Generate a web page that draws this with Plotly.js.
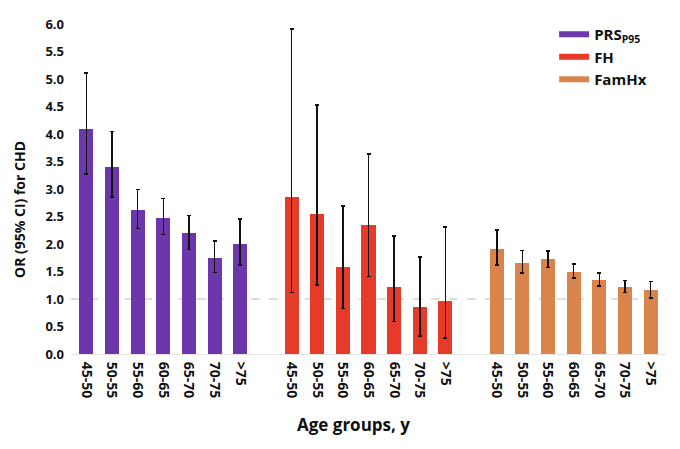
<!DOCTYPE html>
<html>
<head>
<meta charset="utf-8">
<script src="https://cdn.plot.ly/plotly-3.0.1.min.js"></script>
<style>
  html, body { margin: 0; padding: 0; background: #fff; }
  #chart { width: 680px; height: 449px; }
</style>
</head>
<body>
<div id="chart"></div>
<script>
// age groups, same for each risk factor
const ageGroups = ["45-50", "50-55", "55-60", "60-65", "65-70", "70-75", ">75"];

// odds ratios with 95% CI
const prsOR = [4.10, 3.41, 2.61, 2.48, 2.20, 1.74, 2.00];
const prsHi = [5.11, 4.05, 2.99, 2.83, 2.52, 2.05, 2.45];
const prsLo = [3.27, 2.86, 2.28, 2.17, 1.90, 1.48, 1.62];

const fhOR = [2.86, 2.54, 1.58, 2.34, 1.21, 0.85, 0.96];
const fhHi = [5.91, 4.53, 2.69, 3.64, 2.15, 1.76, 2.31];
const fhLo = [1.12, 1.25, 0.83, 1.41, 0.59, 0.33, 0.29];

const famOR = [1.91, 1.66, 1.72, 1.50, 1.34, 1.21, 1.16];
const famHi = [2.26, 1.88, 1.87, 1.64, 1.47, 1.34, 1.32];
const famLo = [1.62, 1.47, 1.57, 1.38, 1.24, 1.12, 1.02];

const seriesNames = ["PRS<sub>P95</sub>", "FH", "FamHx"];
const colors = ["#6B37AA", "#E63B2B", "#D9844C"];

// each group gets 7 slots plus one empty slot as gap
const groupStride = ageGroups.length + 1;
const slot = (g) => ageGroups.map((_, i) => g * groupStride + i);

function barTrace(g, or, hi, lo) {
  return {
    type: "bar",
    x: slot(g),
    y: or,
    width: 0.55,
    marker: { color: colors[g] },
    showlegend: false,
    error_y: {
      type: "data",
      symmetric: false,
      array: hi.map((v, i) => v - or[i]),
      arrayminus: or.map((v, i) => v - lo[i]),
      color: "#111",
      thickness: 1.6,
      width: 2,
    },
    hoverinfo: "y",
  };
}

// legend entries drawn as short lines, like the original
const legendTraces = seriesNames.map((name, g) => ({
  type: "scatter",
  mode: "lines",
  x: [null],
  y: [null],
  name: name,
  line: { color: colors[g], width: 6 },
}));

const traces = [
  barTrace(0, prsOR, prsHi, prsLo),
  barTrace(1, fhOR, fhHi, fhLo),
  barTrace(2, famOR, famHi, famLo),
  ...legendTraces,
];

const tickvals = [0, 1, 2].flatMap((g) => slot(g));
const ticktext = [0, 1, 2].flatMap(() => ageGroups);

const baseFont = { family: "Open Sans, sans-serif", color: "#111" };

const layout = {
  width: 680,
  height: 449,
  margin: { l: 71, r: 14, t: 23, b: 95 },
  paper_bgcolor: "#fff",
  plot_bgcolor: "#fff",
  bargap: 0,
  font: baseFont,
  xaxis: {
    range: [-0.6, 22.6],
    tickvals: tickvals,
    ticktext: ticktext,
    tickangle: 90,
    tickfont: { ...baseFont, size: 14, weight: "bold" },
    ticklabelstandoff: 4,
    showgrid: false,
    zeroline: false,
    showline: true,
    linecolor: "#e4e4e4",
    linewidth: 1,
    ticks: "",
  },
  yaxis: {
    range: [0, 6.02],
    tickvals: [0, 0.5, 1, 1.5, 2, 2.5, 3, 3.5, 4, 4.5, 5, 5.5, 6],
    tickformat: ".1f",
    tickfont: { ...baseFont, size: 13, weight: "bold" },
    showgrid: false,
    zeroline: false,
    showline: false,
    ticks: "",
    ticklabelstandoff: 6,
  },
  legend: {
    x: 0.812,
    y: 1.015,
    xanchor: "left",
    yanchor: "top",
    bgcolor: "rgba(0,0,0,0)",
    font: { ...baseFont, size: 15, weight: "bold" },
    itemwidth: 30,
    tracegroupgap: 0,
  },
  // axis titles placed as annotations: they sit off-centre in the original
  annotations: [
    {
      text: "OR (95% CI) for CHD",
      xref: "paper",
      yref: "paper",
      x: 0,
      y: 0.435,
      xshift: -52,
      xanchor: "center",
      yanchor: "middle",
      textangle: -90,
      showarrow: false,
      font: { ...baseFont, size: 14, weight: "bold" },
    },
    {
      text: "Age groups, y",
      xref: "paper",
      yref: "paper",
      x: 0.475,
      y: -0.214,
      xanchor: "center",
      yanchor: "middle",
      showarrow: false,
      font: { ...baseFont, size: 17, weight: "bold" },
    },
  ],
  shapes: [
    {
      type: "line",
      xref: "paper",
      x0: 0,
      x1: 1,
      yref: "y",
      y0: 1,
      y1: 1,
      line: { color: "#bdbdbd", width: 1, dash: "dash" },
      layer: "below",
    },
  ],
};

Plotly.newPlot("chart", traces, layout, { displayModeBar: false, staticPlot: true });
</script>
</body>
</html>
